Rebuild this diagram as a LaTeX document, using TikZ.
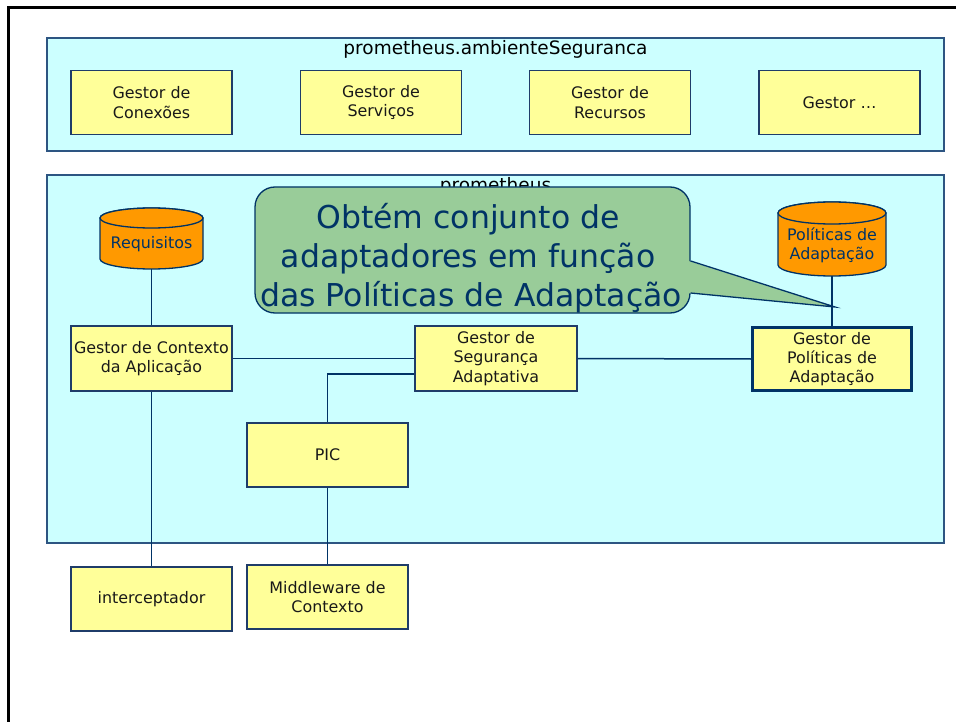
\documentclass[tikz,border=0pt]{standalone}
\usepackage{fontspec}
\setmainfont{DejaVu Sans}
\usetikzlibrary{calc}
\definecolor{pkgfill}{RGB}{204,255,255}
\definecolor{pkgborder}{RGB}{45,85,130}
\definecolor{boxfill}{RGB}{255,255,153}
\definecolor{boxborder}{RGB}{31,60,105}
\definecolor{cylfill}{RGB}{255,153,0}
\definecolor{callfill}{RGB}{153,204,153}
\definecolor{navy}{RGB}{0,51,102}
\definecolor{textdark}{RGB}{25,25,25}
\begin{document}
\begin{tikzpicture}[x=1pt,y=-1pt,
  pkg/.style={rectangle, draw=pkgborder, fill=pkgfill, line width=1.5pt, inner sep=0pt},
  pkgtitle/.style={anchor=base, inner sep=0pt, text=black, font=\fontsize{18.5pt}{22pt}\selectfont},
  gbox/.style={rectangle, draw=boxborder, fill=boxfill, line width=1.4pt, inner sep=0pt,
    minimum width=161pt, minimum height=64pt, align=center, text=textdark,
    font=\fontsize{15.9pt}{19.3pt}\selectfont},
  thickbox/.style={gbox, draw=navy, line width=3.3pt, minimum width=158.7pt, minimum height=62.7pt},
  cyllabel/.style={rectangle, inner sep=0pt, align=center, text=navy,
    font=\fontsize{15.9pt}{19.3pt}\selectfont},
  cylshape/.style={fill=cylfill, draw=navy, line width=1.3pt},
  link/.style={draw=navy, line width=1.5pt},
  calltext/.style={anchor=base, inner sep=0pt, text=navy, font=\fontsize{31.5pt}{38.5pt}\selectfont},
]
\useasboundingbox (0,0) rectangle (956,722);
\fill[white] (0,0) rectangle (956,722);
% outer frame
\draw[line width=3pt, black] (8.5,722) -- (8.5,7.5) -- (956,7.5);

% top package
\node[pkg, minimum width=897pt, minimum height=113pt] (pkgA) at (495.5,94.5) {};
\node[pkgtitle] (pkgAtitle) at (495.5,55) {prometheus.ambienteSeguranca};
\node[gbox] (con) at (151.5,102.5) {Gestor de\\Conexões};
\node[gbox] (ser) at (381,102.5) {Gestor de\\Serviços};
\node[gbox] (rec) at (610,102.5) {Gestor de\\Recursos};
\node[gbox] (etc) at (839.5,102.5) {Gestor …};

% lower package
\node[pkg, minimum width=897pt, minimum height=368pt] (pkgB) at (495.5,359) {};
\node[pkgtitle] (pkgBtitle) at (495.5,192) {prometheus};

% cylinders
\path[cylshape] (100,218) -- (100,259) arc[start angle=180, end angle=0, x radius=51.5, y radius=10]
  -- (203,218) arc[start angle=0, end angle=-180, x radius=51.5, y radius=10] -- cycle;
\path[cylshape] (151.5,218) ellipse[x radius=51.5, y radius=10];
\node[cyllabel, minimum width=103pt, minimum height=50pt] (req) at (151.5,244) {Requisitos};

\path[cylshape] (778,213) -- (778,265) arc[start angle=180, end angle=0, x radius=54, y radius=11]
  -- (886,213) arc[start angle=0, end angle=-180, x radius=54, y radius=11] -- cycle;
\path[cylshape] (832,213) ellipse[x radius=54, y radius=11];
\node[cyllabel, minimum width=108pt, minimum height=61pt] (polc) at (832,245.5) {Políticas de\\Adaptação};

% boxes in lower package
\node[gbox, minimum height=65pt] (ctx) at (151.5,358.5) {Gestor de Contexto\\da Aplicação};
\node[gbox, minimum width=162pt, minimum height=65pt] (seg) at (496,358.5) {Gestor de\\Segurança\\Adaptativa};
\node[thickbox] (pol) at (832,359) {Gestor de\\Políticas de\\Adaptação};
\node[gbox] (pic) at (327.5,455) {PIC};
\node[gbox] (int) at (151.5,599) {interceptador};
\node[gbox] (mid) at (327.5,597) {Middleware de\\Contexto};

% connectors
\draw[link] (req.south) -- (ctx.north);
\draw[link] (ctx.east) -- (seg.west);
\draw[link] ($(seg.west)+(0,15.5)$) -| (pic.north);
\draw[link] (seg.east) -- (pol.west);
\draw[link] (polc.south) -- (pol.north);
\draw[link] (ctx.south) -- (int.north);
\draw[link] (pic.south) -- (mid.north);

% callout
\node[rectangle, rounded corners=20pt, fill=callfill, draw=navy, line width=1.3pt,
  minimum width=435pt, minimum height=126pt, inner sep=0pt] (call) at (472.5,250) {};
\coordinate (tip) at (835,307);
\fill[callfill] ($(call.east)+(-2,11)$) -- (tip) -- ($(call.east)+(-2,43)$) -- cycle;
\draw[navy, line width=1.3pt, line join=miter] ($(call.east)+(0,11)$) -- (tip) -- ($(call.east)+(0,43)$);
\node[calltext] (c1) at (468,229) {Obtém conjunto de};
\node[calltext] (c2) at (468,267.5) {adaptadores em função};
\node[calltext] (c3) at (471,306) {das Políticas de Adaptação};
\end{tikzpicture}
\end{document}
